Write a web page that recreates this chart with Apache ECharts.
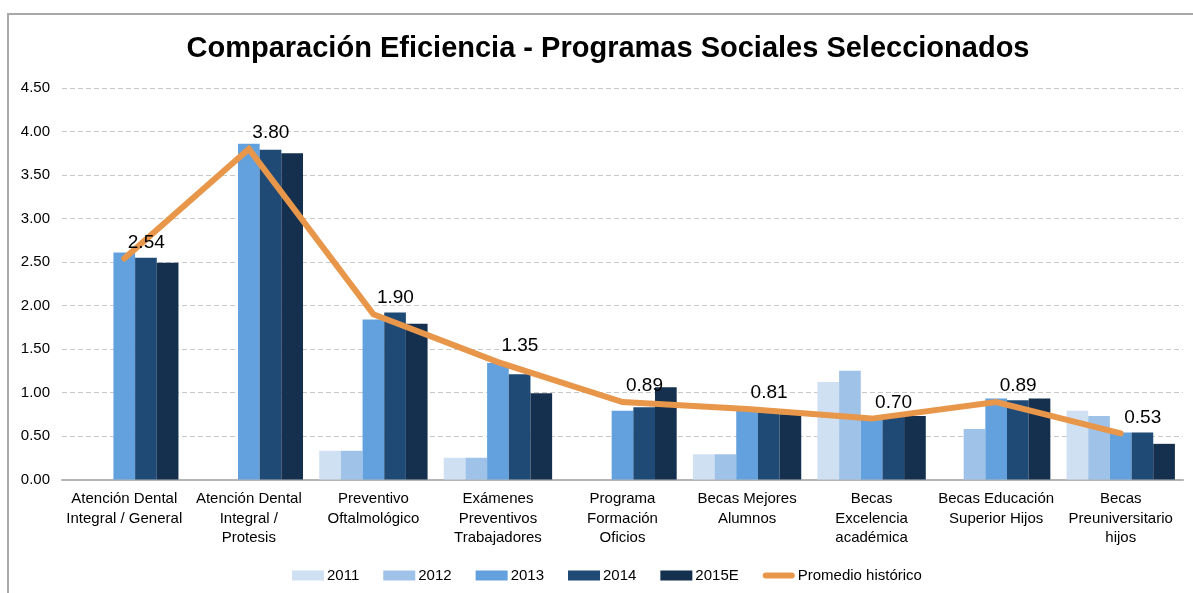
<!DOCTYPE html>
<html>
<head>
<meta charset="utf-8">
<script src="https://cdn.jsdelivr.net/npm/echarts@6/dist/echarts.min.js"></script>
<style>
  html, body { margin: 0; padding: 0; background: #fff; }
  .frame {
    position: absolute; left: 7px; top: 13px; width: 1200px; height: 600px;
    border: 2px solid #a8a8a8; box-sizing: border-box;
  }
  #chart { position: absolute; left: 0; top: 0; width: 1193px; height: 593px; }
</style>
</head>
<body>
<div class="frame"></div>
<div id="chart"></div>
<script>
// categorias (programas)
const categories = [
  "Atención Dental\nIntegral / General",
  "Atención Dental\nIntegral /\nProtesis",
  "Preventivo\nOftalmológico",
  "Exámenes\nPreventivos\nTrabajadores",
  "Programa\nFormación\nOficios",
  "Becas Mejores\nAlumnos",
  "Becas\nExcelencia\nacadémica",
  "Becas Educación\nSuperior Hijos",
  "Becas\nPreuniversitario\nhijos"
];
const years = ["2011", "2012", "2013", "2014", "2015E"];
const yearColors = ["#cfe0f2", "#9fc2e9", "#62a1dd", "#1f4a75", "#152f4f"];

const v2011 = [null, null, 0.33, 0.25, null, 0.29, 1.12, null, 0.79];
const v2012 = [null, null, 0.33, 0.25, null, 0.29, 1.25, 0.58, 0.73];
const v2013 = [2.61, 3.86, 1.84, 1.34, 0.79, 0.80, 0.71, 0.93, 0.54];
const v2014 = [2.55, 3.79, 1.92, 1.21, 0.83, 0.77, 0.73, 0.91, 0.54];
const v2015 = [2.49, 3.75, 1.79, 0.99, 1.06, 0.75, 0.73, 0.93, 0.41];
const promedio = [2.54, 3.80, 1.90, 1.35, 0.89, 0.81, 0.70, 0.89, 0.53];

const yearValues = [v2011, v2012, v2013, v2014, v2015];
const font = "'Liberation Sans', Arial, sans-serif";

const mychart = echarts.init(document.getElementById("chart"));

const barSeries = years.map((y, i) => ({
  name: y,
  type: "bar",
  data: yearValues[i],
  barGap: "0%",
  barCategoryGap: "13%",
  itemStyle: { color: yearColors[i] }
}));

const options = {
  animation: false,
  title: {
    text: "Comparación Eficiencia - Programas Sociales Seleccionados",
    left: 603,
    textAlign: "center",
    top: 29,
    textStyle: { fontFamily: font, fontSize: 29, fontWeight: "bold", color: "#000" }
  },
  legend: {
    bottom: 5,
    left: 287,
    itemWidth: 32,
    itemHeight: 10,
    itemGap: 24,
    textStyle: { fontFamily: font, fontSize: 15, color: "#000", padding: [0, 0, 0, -2] },
    data: years.map(y => ({ name: y, icon: "rect" })).concat([
      { name: "Promedio histórico", icon: "path://M3,3 L29,3 A3,3 0 0 1 29,9 L3,9 A3,3 0 0 1 3,3 Z" }
    ])
  },
  grid: { left: 62, right: 10, top: 88, bottom: 113.5 },
  xAxis: {
    type: "category",
    data: categories,
    axisTick: { show: false },
    axisLine: { lineStyle: { color: "#b5b5b5", width: 2 } },
    axisLabel: {
      interval: 0,
      margin: 10,
      fontFamily: font,
      fontSize: 15,
      lineHeight: 19.5,
      color: "#000"
    }
  },
  yAxis: {
    type: "value",
    min: 0,
    max: 4.5,
    interval: 0.5,
    axisLine: { show: false },
    axisTick: { show: false },
    axisLabel: {
      margin: 12,
      fontFamily: font,
      fontSize: 15,
      color: "#000",
      formatter: v => v.toFixed(2)
    },
    splitLine: { lineStyle: { color: "#c8c8c8", type: [5, 3], width: 1 } }
  },
  series: barSeries.concat([
    {
      name: "Promedio histórico",
      type: "line",
      data: promedio,
      symbol: "circle",
      symbolSize: 1,
      showSymbol: true,
      z: 5,
      lineStyle: { color: "#e8964a", width: 6, cap: "round", join: "miter" },
      itemStyle: { color: "#e8964a" },
      label: {
        show: true,
        position: "top",
        distance: 6,
        offset: [22, 0],
        fontFamily: font,
        fontSize: 19,
        color: "#000",
        formatter: p => p.value.toFixed(2)
      }
    }
  ])
};
mychart.setOption(options);
</script>
</body>
</html>
